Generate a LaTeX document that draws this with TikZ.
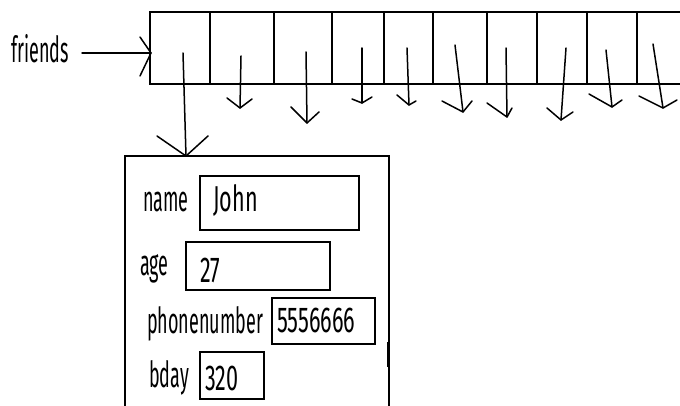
\documentclass[tikz,border=0pt]{standalone}
\usepackage{fontspec}
\setmainfont[FakeStretch=0.5]{Fira Sans}
\newfontfamily\valfont[FakeStretch=0.6]{Fira Sans}
\newcommand\handarrow[4]{\draw[ink] (#1) -- (#2); \draw[ink] (#3) -- (#2) -- (#4);}
\begin{document}
\begin{tikzpicture}[x=1pt,y=-1pt,
  ink/.style={line width=1.5pt,line cap=round,line join=round},
  cellbox/.style={draw,line width=1.6pt,minimum height=72pt,inner sep=0pt,anchor=north west},
  valbox/.style={draw,line width=1.6pt,inner sep=0pt,anchor=north west},
  txt/.style={font=\fontsize{36}{36}\selectfont,inner sep=0pt,anchor=base west},
  valtxt/.style={font=\valfont\fontsize{36}{36}\selectfont,inner sep=0pt,anchor=base west}]
\clip (0,0) rectangle (680,406);
\fill[white] (0,0) rectangle (680,406);
% array cells
\node[cellbox,minimum width=60pt] (c1) at (149,11) {};
\node[cellbox,minimum width=64pt] (c2) at (209,11) {};
\node[cellbox,minimum width=58pt] (c3) at (273,11) {};
\node[cellbox,minimum width=52pt] (c4) at (331,11) {};
\node[cellbox,minimum width=49pt] (c5) at (383,11) {};
\node[cellbox,minimum width=54pt] (c6) at (432,11) {};
\node[cellbox,minimum width=50pt] (c7) at (486,11) {};
\node[cellbox,minimum width=50pt] (c8) at (536,11) {};
\node[cellbox,minimum width=50pt] (c9) at (586,11) {};
\node[cellbox,minimum width=80pt] (c10) at (636,11) {};
% friends label and arrow
\node[txt] (friends) at (11,63) {friends};
\coordinate (fs) at (82,53);
\coordinate (ft) at (151,53);
\handarrow{fs}{ft}{140,37}{140,76}
% record box
\node[valbox,minimum width=264pt,minimum height=280pt] (rec) at (124,155) {};
\draw[line width=3pt] (388,342) -- (388,367);
% big arrow
\coordinate (bs) at (183,53);
\coordinate (bt) at (186,156);
\handarrow{bs}{bt}{157,136}{208,136}
% small arrows
\handarrow{241,56}{240,108}{227,98}{252,99}
\handarrow{306,52}{307,123}{291,107}{319,112}
\handarrow{362,48}{362,103}{352,99}{372,97}
\handarrow{407,48}{409,105}{397,95}{416,101}
\handarrow{455,45}{463,112}{442,101}{472,101}
\handarrow{506,48}{507,117}{487,103}{512,108}
\handarrow{566,48}{561,120}{547,108}{573,112}
\handarrow{606,50}{612,107}{589,94}{622,100}
\handarrow{653,44}{663,108}{639,96}{677,100}
% fields
\node[txt] (lname) at (143,212) {name};
\node[valbox,minimum width=159pt,minimum height=54pt] (bname) at (199,175) {};
\node[valtxt] (vname) at (213,212) {John};
\node[txt] (lage) at (140,275) {age};
\node[valbox,minimum width=144pt,minimum height=48pt] (bage) at (185,241) {};
\node[valtxt] (vage) at (200,282) {27};
\node[txt] (lphone) at (147,333) {phonenumber};
\node[valbox,minimum width=103pt,minimum height=46pt] (bphone) at (271,297) {};
\node[valtxt] (vphone) at (277,332) {5556666};
\node[txt] (lbday) at (149,387) {bday};
\node[valbox,minimum width=64pt,minimum height=47pt] (bbday) at (199,351) {};
\node[valtxt] (vbday) at (205,390) {320};
\end{tikzpicture}
\end{document}
